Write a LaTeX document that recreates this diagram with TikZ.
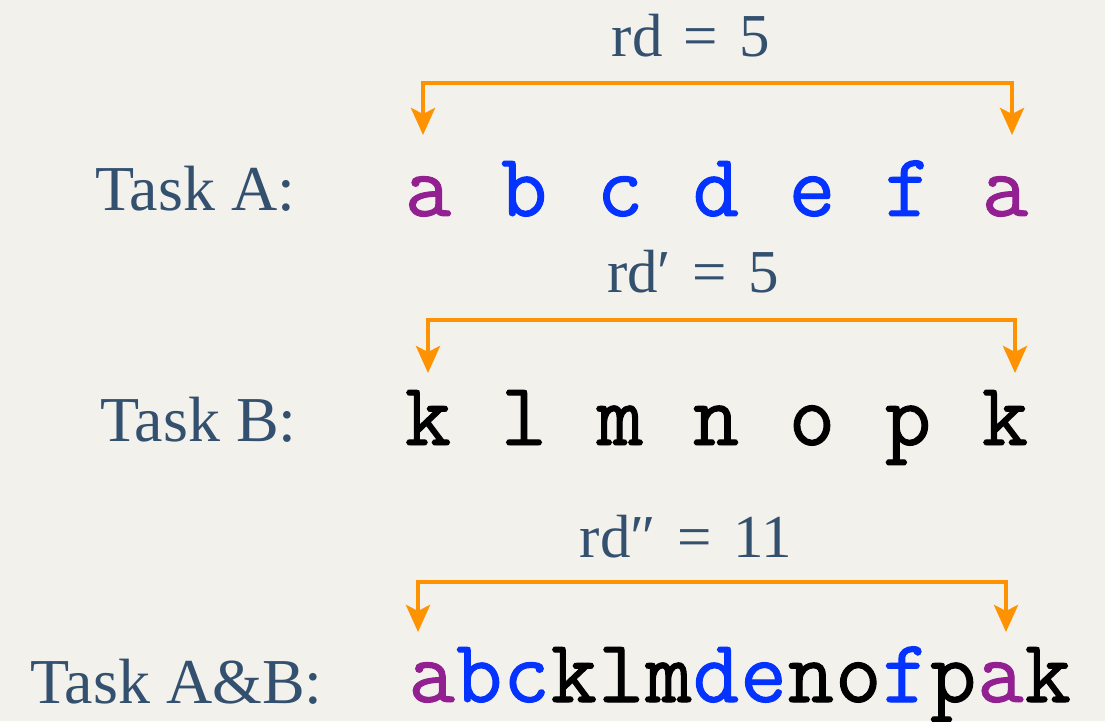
\documentclass[tikz,border=0pt]{standalone}
\usepackage{fontspec}
\setmainfont{Liberation Serif}
\newfontfamily\monofont[FakeBold=1.1]{Latin Modern Mono}
\usetikzlibrary{arrows.meta}
\definecolor{bg}{HTML}{F3F1EC}
\definecolor{labelc}{HTML}{34506F}
\definecolor{purp}{HTML}{922090}
\definecolor{blu}{HTML}{0433FF}
\definecolor{orng}{HTML}{FF9200}
\tikzset{
  lbl/.style={anchor=base west, inner sep=0pt, text=labelc, font=\fontsize{64}{64}\selectfont},
  rdlbl/.style={anchor=base, inner sep=0pt, text=labelc, font=\fontsize{61}{61}\selectfont},
  ch/.style={anchor=base, inner sep=0pt, font=\monofont\fontsize{90}{90}\selectfont},
  pa/.style={ch, text=purp},
  bl/.style={ch, text=blu},
  bk/.style={ch, text=black},
  brk/.style={draw=orng, line width=4.5pt, line join=miter,
    {Stealth[length=27pt, width=24pt, inset=6pt]}-{Stealth[length=27pt, width=24pt, inset=6pt]}}
}
\begin{document}
\begin{tikzpicture}[x=1pt,y=1pt]
\fill[bg] (0,0) rectangle (1105,721);
\useasboundingbox (0,0) rectangle (1105,721);
% labels
\node[lbl] (ta) at (95,510) {Task A:};
\node[lbl] (tb) at (100,280) {Task B:};
\node[lbl] (tab) at (30,18) {Task A\&B:};
\node[rdlbl] (rd1) at (691,664) {rd\hspace{0.35em}=\hspace{0.35em}5};
\node[rdlbl] (rd2) at (693,428) {rd\char"2032\hspace{0.35em}=\hspace{0.35em}5};
\node[rdlbl] (rd3) at (686,164) {rd\char"2033\hspace{0.35em}=\hspace{0.35em}11};
% row A
\node[pa] (a1) at (428,505) {a};
\node[bl] (a2) at (524,505) {b};
\node[bl] (a3) at (620,505) {c};
\node[bl] (a4) at (716,505) {d};
\node[bl] (a5) at (812,505) {e};
\node[bl] (a6) at (908,505) {f};
\node[pa] (a7) at (1005,505) {a};
% row B
\node[bk] (b1) at (428,276) {k};
\node[bk] (b2) at (524,276) {l};
\node[bk] (b3) at (620,276) {m};
\node[bk] (b4) at (716,276) {n};
\node[bk] (b5) at (812,276) {o};
\node[bk] (b6) at (908,276) {p};
\node[bk] (b7) at (1005,276) {k};
% row A&B
\foreach \c/\s [count=\i from 0] in {a/pa,b/bl,c/bl,k/bk,l/bk,m/bk,d/bl,e/bl,n/bk,o/bk,f/bl,p/bk,a/pa,k/bk}{
  \node[\s] (c\i) at ({408+47.4*(\i+0.5)},19) {\c};
}
% brackets
\coordinate (L1) at (423,586); \coordinate (R1) at (1012,586);
\coordinate (L2) at (428,348); \coordinate (R2) at (1015,348);
\coordinate (L3) at (418,89);  \coordinate (R3) at (1006,89);
\draw[brk] (L1) -- ++(0,52) -| (R1);
\draw[brk] (L2) -- ++(0,53) -| (R2);
\draw[brk] (L3) -- ++(0,50) -| (R3);
\end{tikzpicture}
\end{document}
